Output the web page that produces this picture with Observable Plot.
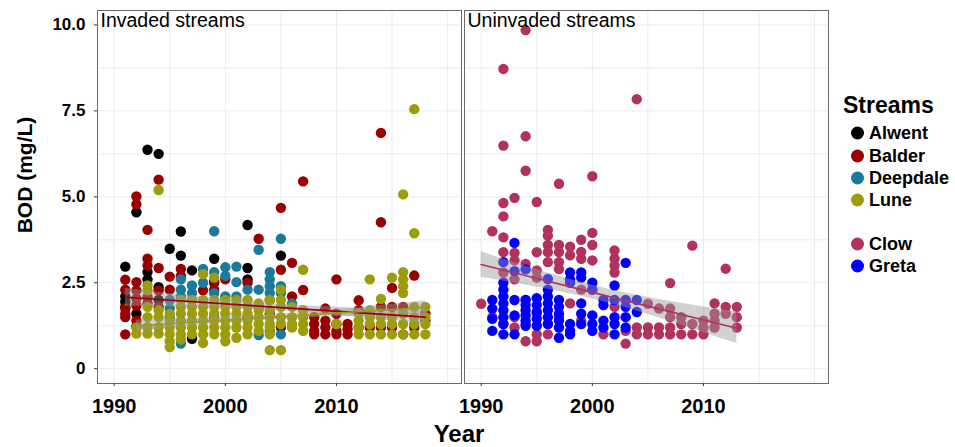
<!DOCTYPE html>
<html><head><meta charset="utf-8">
<script src="https://cdn.jsdelivr.net/npm/d3@7"></script>
<script src="https://cdn.jsdelivr.net/npm/@observablehq/plot@0.6"></script>
<style>
body{margin:0;background:#fff;}
#wrap{position:relative;width:955px;height:447px;font-family:"Liberation Sans",Arial,sans-serif;color:#000;}
.abs{position:absolute;white-space:nowrap;}
.ylab{left:25px;top:175px;transform:translate(-50%,-50%) rotate(-90deg);font-weight:bold;font-size:21px;}
.xlab{left:459px;top:434px;transform:translate(-50%,-50%);font-weight:bold;font-size:24px;}
.legtitle{left:843px;top:92px;font-weight:bold;font-size:23px;}
.item{left:851px;font-weight:bold;font-size:18px;display:flex;align-items:center;transform:translateY(-50%);}
.item span.dot{display:inline-block;width:13px;height:13px;border-radius:50%;margin-right:5px;}
</style></head><body><div id="wrap"></div><script>
const streams = ["Alwent","Balder","Deepdale","Lune","Clow","Greta"];
const streamColors = ["#000000","#9b0000","#1a7a9c","#9c9c0c","#b2325f","#0000ff"];
const streamPanel = ["Invaded streams","Invaded streams","Invaded streams","Invaded streams","Uninvaded streams","Uninvaded streams"];
const panels = ["Invaded streams","Uninvaded streams"];
const legendY = [133,156,178,200,244,266];

const alwent = [
 [1991,[2.97,2.1,1.95,1.8]],[1992,[4.55,1.6,1.23]],[1993,[6.37,2.81,2.6]],[1994,[6.25,2.37,2.0]],
 [1995,[3.49]],[1996,[3.99,3.29]],[1997,[2.86,0.87]],[1999,[3.2,2.5]],[2002,[4.18,2.93,2.6]],[2005,[3.29]]
];
const balder = [
 [1991,[2.59,2.3,1.75,1.6,1.5,1.0]],[1992,[5.01,4.78,2.52,2.28,2.04,1.84,1.4]],[1993,[4.04,3.2,3.0,2.08,1.9]],
 [1994,[5.5,2.93,2.28,1.8]],[1995,[2.68,2.3]],[1996,[2.9,2.7]],[1997,[2.0]],[1998,[2.28]],[1999,[2.55,2.3]],
 [2000,[2.6]],[2002,[2.5,1.5]],[2003,[3.78,1.8]],[2004,[2.0,1.6]],[2005,[4.68,2.88,1.2]],[2006,[3.08,2.1]],
 [2007,[5.45,2.29]],[2008,[1.5,1.3,1.1,1.0]],[2009,[1.75,1.4,1.2,1.0]],[2010,[2.6,1.6,1.3,1.1,1.0]],
 [2011,[1.3,1.15,1.0]],[2012,[1.99,1.7,1.2]],[2013,[1.6,1.2]],[2014,[6.86,4.26,1.8,1.2]],[2015,[2.35,1.8,1.2]],
 [2016,[1.8,1.0]],[2017,[2.71,1.2]],[2018,[1.6,1.4]]
];
const deepdale = [
 [1995,[2.0,1.75,1.5]],[1996,[2.6,2.3,2.1,0.73]],[1997,[2.42,2.2]],[1998,[2.9,2.5]],[1999,[4.0,2.81,2.2,1.5]],
 [2000,[2.95,2.7,2.1]],[2001,[2.97,2.52,2.1]],[2002,[2.3]],[2003,[3.46,2.3,0.98]],[2004,[2.81,2.6,2.4,2.2,1.1]],
 [2005,[3.78,2.4,2.2,1.0]],[2006,[1.9]]
];
const lune = [
 [1992,[1.2,1.02]],[1993,[2.42,2.28,1.8,1.5,1.21,1.02]],[1994,[5.2,1.7,1.5,1.21,1.02]],
 [1995,[1.6,1.4,1.2,1.0,0.8,0.63]],[1996,[2.0,1.8,1.6,1.4,1.2,1.0,0.85]],[1997,[2.0,1.8,1.6,1.4,1.2,1.0]],
 [1998,[2.75,2.0,1.8,1.6,1.4,1.2,1.0,0.75]],[1999,[2.65,2.0,1.8,1.6,1.4,1.2,1.0]],[2000,[2.0,1.8,1.6,1.4,1.2,1.0,0.8]],
 [2001,[2.0,1.8,1.6,1.4,1.2,0.9]],[2002,[2.0,1.8,1.6,1.4,1.2,1.0]],[2003,[1.9,1.7,1.5,1.3,1.1]],
 [2004,[2.0,1.7,1.5,1.3,1.2,1.0,0.54]],[2005,[2.3,2.0,1.8,1.5,1.3,0.54]],[2006,[1.8,1.5,1.3,1.2]],
 [2007,[2.88,1.7,1.5,1.3,1.1]],[2010,[1.3]],[2012,[1.6,1.4,1.2,1.0]],[2013,[2.6,1.7,1.5,1.3,1.0]],
 [2014,[2.03,1.5,1.3,1.0]],[2015,[2.65,1.5,1.3,1.0]],[2016,[5.07,2.81,2.6,2.4,2.2,1.6,1.3,1.0]],
 [2017,[7.55,3.94,1.8,1.5,1.3,1.0]],[2018,[1.8,1.5,1.3,1.0]]
];
const clow = [
 [1990,[1.89]],[1991,[4.0,1.5]],[1992,[8.72,6.49,4.82,4.43,3.82,3.39,2.8,1.3]],[1993,[4.97,3.37,3.15,2.6,1.5,1.2]],
 [1994,[9.85,6.76,5.76,3.05,2.0,1.3,0.8]],[1995,[4.85,3.39,2.86,2.65,1.6,1.0,0.8]],[1996,[4.04,3.87,3.6,3.39,3.1,1.3,1.0]],
 [1997,[5.38,3.6,3.39,3.1,2.9,1.5]],[1998,[3.55,3.3,1.9]],[1999,[3.75,3.4,3.2,2.3,1.4]],[2000,[5.6,3.95,3.6,3.15,2.3]],
 [2001,[1.0]],[2002,[3.44,3.2,3.0,2.8,1.8]],[2003,[1.1,0.73]],[2004,[7.84,1.2,1.0]],[2005,[1.89,1.2,1.0]],
 [2006,[1.75,1.2,1.0]],[2007,[2.49,1.75,1.5,1.2,1.0]],[2008,[1.5,1.3,1.0]],[2009,[3.58,1.3,1.0]],[2010,[1.4,1.2,1.0]],
 [2011,[1.9,1.6,1.4,1.2]],[2012,[2.91,1.8,1.6]],[2013,[1.8,1.5,1.2]]
];
const greta = [
 [1991,[2.0,1.75,1.45,1.1]],[1992,[3.1,2.5,2.3,2.1,1.9,1.7,1.5,1.3,1.0]],[1993,[3.66,2.84,2.0,1.55,1.0]],
 [1994,[2.89,2.0,1.85,1.7,1.55,1.4,1.25]],[1995,[2.05,1.85,1.65,1.45,1.25]],[1996,[2.61,2.3,2.1,1.9,1.7,1.5,1.3]],
 [1997,[2.0,1.8,1.6,1.4,1.2,0.9]],[1998,[2.8,2.6,2.5,1.3,1.1,1.0]],[1999,[2.8,2.65,1.9,1.6,1.3]],
 [2000,[2.5,2.3,1.55,1.3,1.1]],[2001,[2.0,1.85,1.4,1.2]],[2002,[2.42,2.0,1.5,1.3,1.0]],[2003,[3.08,2.0,1.8,1.5,1.2]],
 [2004,[2.0,1.65]]
];
const streamData = [alwent, balder, deepdale, lune, clow, greta];

// fitted lm lines with confidence ribbons
const fitStream = ["Balder","Balder","Balder","Lune","Lune","Lune","Clow","Clow","Clow"];
const fitYear  = [1991,2004,2018, 1992,2005,2018, 1990,2001,2013];
const fitValue = [2.08,1.80,1.50, 1.25,1.515,1.78, 3.03,2.14,1.18];
const fitLow   = [1.82,1.70,1.30, 1.08,1.44,1.58, 2.66,1.95,0.73];
const fitHigh  = [2.34,1.90,1.70, 1.42,1.59,1.98, 3.40,2.35,1.65];

const yTicks = [0,2.5,5,7.5,10];
const yGrid = [0,1.25,2.5,3.75,5,6.25,7.5,8.75,10];
const xTicks = [1990,2000,2010];
const xGrid = [1990,1995,2000,2005,2010,2015,2020];

const rows = [];
streamData.forEach((sd, i) => {
  sd.forEach(([yr, vals]) => vals.forEach(v => rows.push({stream: streams[i], panel: streamPanel[i], year: yr, bod: v})));
});
const fits = fitStream.map((s, i) => ({stream: s, panel: streamPanel[streams.indexOf(s)], year: fitYear[i], fit: fitValue[i], lo: fitLow[i], hi: fitHigh[i]}));
const labels = panels.map(p => ({panel: p}));

const plot = Plot.plot({
  width: 955, height: 447,
  marginLeft: 97, marginRight: 127, marginTop: 10, marginBottom: 64,
  style: {fontFamily: '"Liberation Sans", Arial, sans-serif', background: "#fff", color: "#000"},
  x: {domain: [1988.5, 2021.25]},
  y: {domain: [-0.43, 10.42]},
  fx: {domain: panels, paddingInner: 0.0085, paddingOuter: 0, axis: null, label: null},
  color: {domain: streams, range: streamColors},
  marks: [
    Plot.gridY(yGrid, {stroke: "#ebebeb", strokeOpacity: 1, strokeWidth: 1}),
    Plot.gridX(xGrid, {stroke: "#ebebeb", strokeOpacity: 1, strokeWidth: 1}),
    Plot.dot(rows, {x: "year", y: "bod", fx: "panel", fill: "stream", r: 5.2}),
    Plot.areaY(fits, {x: "year", y1: "lo", y2: "hi", z: "stream", fx: "panel", fill: "#999", fillOpacity: 0.45, curve: "natural"}),
    Plot.line(fits, {x: "year", y: "fit", z: "stream", stroke: "stream", fx: "panel", strokeWidth: 1.6}),
    Plot.frame({stroke: "#6a6a6a", strokeWidth: 1}),
    Plot.text(labels, {fx: "panel", text: "panel", frameAnchor: "top-left", dx: 3, dy: 3, fontSize: 19.5, textAnchor: "start"}),
    Plot.axisY({ticks: yTicks, tickFormat: d => d === 0 ? "0" : d.toFixed(1), tickSize: 3, tickPadding: 9, fontSize: 17, fontWeight: "bold", label: null, stroke: "#333"}),
    Plot.axisX({ticks: xTicks, tickFormat: d => String(d), tickSize: 3, tickPadding: 12, fontSize: 20, fontWeight: "bold", fontFamily: '"Liberation Sans Narrow", "Arial Narrow", "Liberation Sans", sans-serif', label: null, stroke: "#333"})
  ]
});

const wrap = document.getElementById("wrap");
wrap.appendChild(plot);
const add = (cls, txt, style) => { const d = document.createElement("div"); d.className = "abs " + cls; if (txt) d.textContent = txt; if (style) Object.assign(d.style, style); wrap.appendChild(d); return d; };
add("ylab", "BOD (mg/L)");
add("xlab", "Year");
add("legtitle", "Streams");
streams.forEach((s, i) => {
  const d = add("item", null, {top: legendY[i] + "px"});
  const dot = document.createElement("span"); dot.className = "dot"; dot.style.background = streamColors[i];
  d.appendChild(dot); d.appendChild(document.createTextNode(s));
});
</script></body></html>
